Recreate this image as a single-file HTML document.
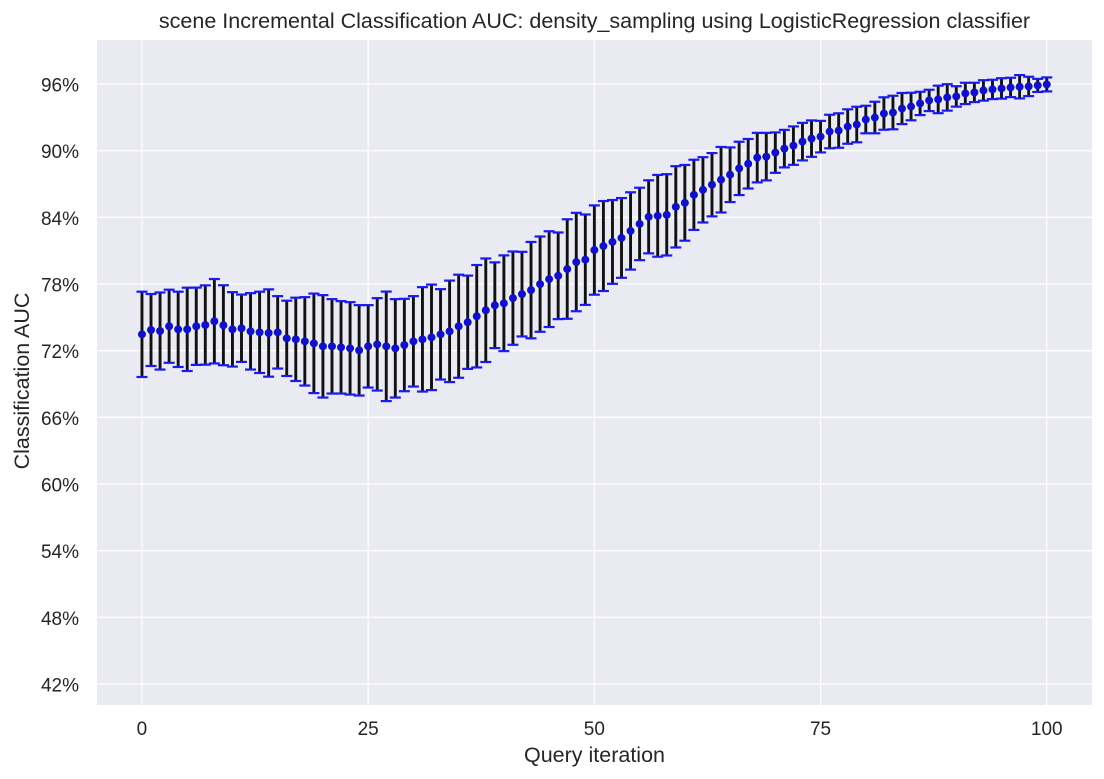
<!DOCTYPE html>
<html><head><meta charset="utf-8"><style>
body{margin:0;background:#fff;}
svg{display:block;font-family:"Liberation Sans","DejaVu Sans",sans-serif;}
</style></head><body>
<svg id="chart" width="1104" height="779" viewBox="0 0 1104 779" xmlns="http://www.w3.org/2000/svg">
<rect x="0" y="0" width="1104" height="779" fill="#ffffff"/>
<rect x="97" y="40" width="995" height="665" fill="#eaeaf2"/>
<g id="grid"></g>
<g id="ticks"></g>
<g id="marks"></g>
<text x="594.5" y="28" text-anchor="middle" font-size="21.5" fill="#262626">scene Incremental Classification AUC: density_sampling using LogisticRegression classifier</text>
<text x="594.5" y="762" text-anchor="middle" font-size="21.5" fill="#262626">Query iteration</text>
<text x="29" y="381" text-anchor="middle" font-size="21.5" fill="#262626" transform="rotate(-90 29 381)">Classification AUC</text>
</svg>
<script>
const means = [73.47,73.86,73.77,74.20,73.92,73.92,74.20,74.31,74.65,74.29,73.92,74.02,73.74,73.65,73.59,73.65,73.11,73.02,72.84,72.66,72.39,72.39,72.30,72.21,72.03,72.39,72.57,72.39,72.21,72.51,72.84,73.02,73.20,73.47,73.74,74.20,74.56,75.10,75.64,76.09,76.27,76.73,77.09,77.45,77.99,78.44,78.74,79.35,79.98,80.19,81.06,81.42,81.79,82.15,82.78,83.41,84.05,84.14,84.23,84.95,85.31,86.03,86.48,86.94,87.39,87.84,88.41,88.83,89.38,89.47,89.83,90.19,90.46,90.82,91.09,91.27,91.73,91.82,92.18,92.36,92.81,92.99,93.35,93.44,93.80,93.98,94.26,94.53,94.62,94.80,94.89,95.16,95.25,95.43,95.52,95.61,95.70,95.76,95.79,95.88,95.97];
const stds = [3.84,3.24,3.47,3.29,3.39,3.75,3.48,3.57,3.80,3.60,3.35,3.03,3.44,3.66,3.93,3.26,3.39,3.75,3.98,4.48,4.61,4.25,4.16,4.16,4.07,3.71,4.16,4.93,4.43,4.16,4.07,4.70,4.75,4.07,4.57,4.64,4.20,4.61,4.66,3.86,4.31,4.20,3.81,4.34,4.29,4.31,3.90,4.48,4.43,4.07,4.02,4.05,3.77,3.59,3.48,3.26,3.29,3.68,3.66,3.66,3.41,3.16,2.94,2.85,2.95,2.46,2.40,2.23,2.23,2.14,1.82,1.69,1.73,1.69,1.64,1.42,1.51,1.55,1.55,1.60,1.24,1.42,1.46,1.51,1.40,1.24,1.05,0.96,1.24,1.19,0.92,0.96,0.87,0.92,0.87,0.92,0.87,1.05,0.87,0.59,0.63];
const xTicks = [0,25,50,75,100];
const yTicks = [42,48,54,60,66,72,78,84,90,96];

const NS = "http://www.w3.org/2000/svg";
const L=97,R=1092,T=40,B=705;
const xMin=-4.97,xMax=105,yMin=40.1,yMax=99.97;
function xs(v){return L+(v-xMin)/(xMax-xMin)*(R-L);}
function ys(v){return B-(v-yMin)/(yMax-yMin)*(B-T);}
function mk(tag,attrs,parent){const e=document.createElementNS(NS,tag);for(const k in attrs)e.setAttribute(k,attrs[k]);parent.appendChild(e);return e;}
const grid=document.getElementById('grid'),ticks=document.getElementById('ticks'),marks=document.getElementById('marks');
xTicks.forEach(t=>{
  const g=mk('line',{x1:xs(t),x2:xs(t),y1:T,y2:B,stroke:'#ffffff','stroke-width':1.3},grid);
  
  
  const tx=mk('text',{x:xs(t),y:B+30,'text-anchor':'middle','font-size':19,fill:'#262626'},ticks);
  tx.textContent=t;
  
  
});
yTicks.forEach(t=>{
  const g=mk('line',{x1:L,x2:R,y1:ys(t),y2:ys(t),stroke:'#ffffff','stroke-width':1.3},grid);
  
  
  const tx=mk('text',{x:L-18,y:ys(t)+7.5,'text-anchor':'end','font-size':19,fill:'#262626'},ticks);
  tx.textContent=t+'%';
  
  
});
means.forEach((m,i)=>{
  const x=xs(i),y1=ys(m+stds[i]),y2=ys(m-stds[i]);
  const bar=mk('line',{x1:x,x2:x,y1:y1,y2:y2,stroke:'#111111','stroke-width':2.9},marks);
  
  
  [y1,y2].forEach(yy=>{
    const c=mk('line',{x1:x-5.5,x2:x+5.5,y1:yy,y2:yy,stroke:'#1a1aee','stroke-width':2.2},marks);
    
    
  });
});
means.forEach((m,i)=>{
  const d=mk('circle',{cx:xs(i),cy:ys(m),r:4,fill:'#1010c8'},marks);
  
  
});
</script>
</body></html>
